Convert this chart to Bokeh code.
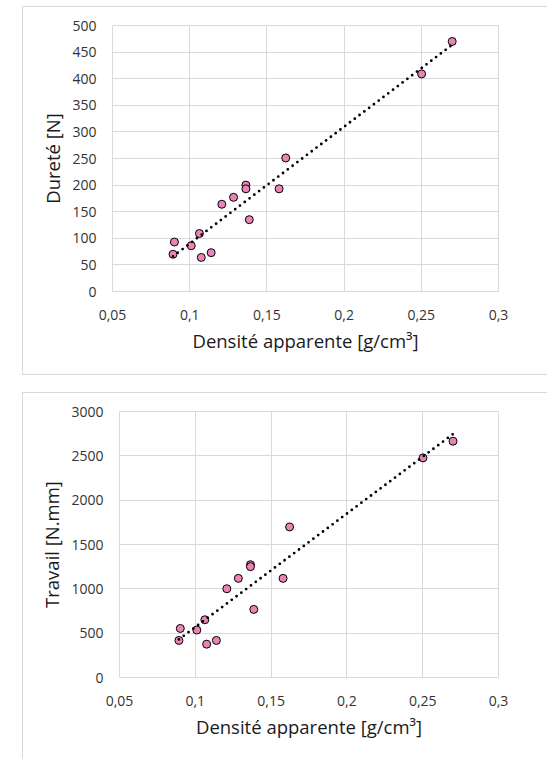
import numpy as np
from bokeh.plotting import figure
from bokeh.models import FixedTicker, CustomJSTickFormatter, Range1d
from bokeh.embed import file_html
from bokeh.resources import INLINE

# Data
densite = [0.0892, 0.0901, 0.1010, 0.1063, 0.1075, 0.1139, 0.1208, 0.1284,
           0.1364, 0.1364, 0.1386, 0.1579, 0.1622, 0.2502, 0.2700]
durete = [70, 93, 86, 109, 64, 73, 164, 177, 200, 193, 135, 193, 251, 409, 470]
travail = [418, 553, 535, 651, 376, 418, 1001, 1118, 1272, 1250, 768, 1118, 1698, 2477, 2665]

x_ticks = [0.05, 0.1, 0.15, 0.2, 0.25, 0.3]
y1_ticks = [0, 50, 100, 150, 200, 250, 300, 350, 400, 450, 500]
y2_ticks = [0, 500, 1000, 1500, 2000, 2500, 3000]

x_label = "Densité apparente [g/cm³]"
y1_label = "Dureté [N]"
y2_label = "Travail [N.mm]"

FONT = "Open Sans"
TXT = "#333333"
GRID = "#d9d9d9"
PINK = "#ea84b6"


def make_chart(yvals, yticks, ylabel, width, height, mb, margin, ymax, styles):
    p = figure(width=width, height=height, output_backend="svg", toolbar_location=None,
               x_range=Range1d(0.05, 0.3), y_range=Range1d(0, ymax),
               min_border_left=mb[0], min_border_right=mb[1],
               min_border_top=mb[2], min_border_bottom=mb[3],
               background_fill_color="white", border_fill_color="white",
               outline_line_color=GRID, styles=styles)
    p.margin = margin
    p.xaxis.ticker = FixedTicker(ticks=x_ticks)
    p.yaxis.ticker = FixedTicker(ticks=yticks)
    p.xaxis.formatter = CustomJSTickFormatter(
        code="var s = tick.toFixed(2); if (s.endsWith('0')) s = s.slice(0, -1); return s.replace('.', ',');")
    for ax in (p.xaxis[0], p.yaxis[0]):
        ax.axis_line_color = None
        ax.major_tick_line_color = None
        ax.minor_tick_line_color = None
        ax.major_tick_out = 0
        ax.major_tick_in = 0
        ax.major_label_text_font = FONT
        ax.major_label_text_font_size = "14px"
        ax.major_label_text_color = TXT
        ax.axis_label_text_font = FONT
        ax.axis_label_text_font_size = "18.5px"
        ax.axis_label_text_font_style = "normal"
        ax.axis_label_text_color = "#1a1a1a"
    p.xaxis.axis_label = x_label
    p.yaxis.axis_label = ylabel
    p.xaxis.major_label_standoff = 18
    p.xaxis.axis_label_standoff = 5
    p.yaxis.major_label_standoff = 16
    p.yaxis.axis_label_standoff = 4
    p.grid.grid_line_color = GRID
    p.grid.grid_line_width = 1

    p.scatter(densite, yvals, size=8, fill_color=PINK, line_color="black", line_width=1)

    coef = np.polyfit(densite, yvals, 1)
    xs = [min(densite), max(densite)]
    ys = [coef[0] * v + coef[1] for v in xs]
    p.line(xs, ys, line_color="black", line_width=2.8, line_dash="0 6", line_cap="round")
    return p


p1 = make_chart(durete, y1_ticks, y1_label, 525, 369, (89, 50, 18, 85), (6, 0, 0, 22), 500,
                {"border-top": "1px solid #d9d9d9", "border-left": "1px solid #d9d9d9",
                 "border-bottom": "1px solid #d9d9d9"})
p2 = make_chart(travail, y2_ticks, y2_label, 525, 367, (96, 50, 18, 83), (17, 0, 0, 22), 3000,
                {"border-top": "1px solid #d9d9d9", "border-left": "1px solid #d9d9d9"})

open("out.html", "w").write(file_html([p1, p2], INLINE))
